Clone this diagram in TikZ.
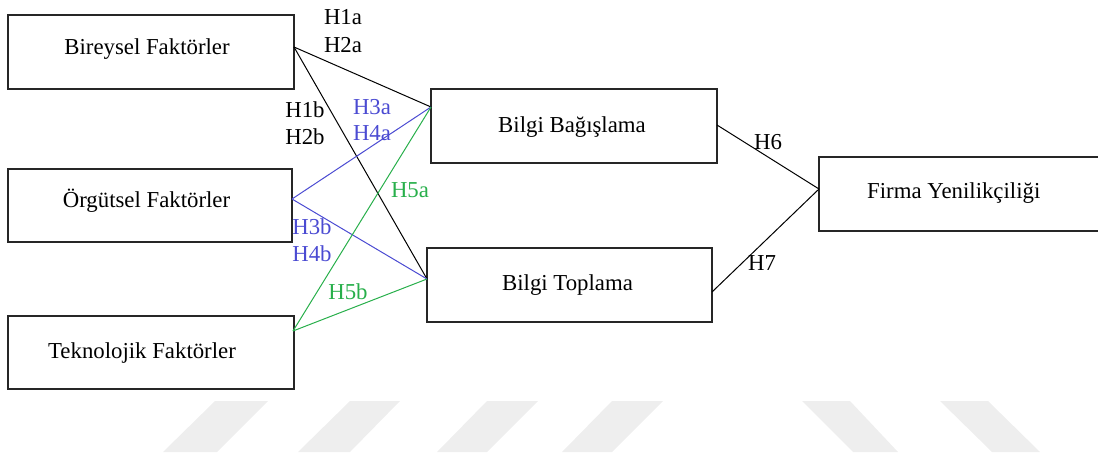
\documentclass[tikz,border=0pt]{standalone}
\usepackage{fontspec}
\setmainfont{Liberation Serif}
\definecolor{hblue}{RGB}{75,75,210}
\definecolor{hgreen}{RGB}{40,175,75}
\definecolor{wm}{RGB}{238,238,238}
\begin{document}
\begin{tikzpicture}[x=1pt,y=-1pt,
  box/.style={draw=black!85,line width=1.8pt,rectangle,inner sep=0pt},
  txt/.style={font=\fontsize{22.8}{26}\selectfont,inner sep=0pt},
  hl/.style={font=\fontsize{22.8}{26}\selectfont,inner sep=0pt},
  conn/.style={line width=1pt}]
\useasboundingbox (0,0) rectangle (1098,458);
\clip (0,0) rectangle (1098,458);
% watermark stripes
\fill[wm] (163,452) -- (217,452) -- (268,401) -- (215,401) -- cycle;
\fill[wm] (298,452) -- (350,452) -- (400,401) -- (350,401) -- cycle;
\fill[wm] (437,452) -- (487,452) -- (538,401) -- (487,401) -- cycle;
\fill[wm] (562,452) -- (612,452) -- (663,401) -- (612,401) -- cycle;
\fill[wm] (802,401) -- (850,401) -- (898,452) -- (853,452) -- cycle;
\fill[wm] (940,401) -- (988,401) -- (1040,452) -- (992,452) -- cycle;
% boxes
\node[box,minimum width=286pt,minimum height=74pt] (bir) at (151,52) {};
\node[box,minimum width=284pt,minimum height=73pt] (org) at (150,205.5) {};
\node[box,minimum width=286pt,minimum height=73pt] (tek) at (151,352.5) {};
\node[box,minimum width=286pt,minimum height=74pt] (bag) at (574,126) {};
\node[box,minimum width=285pt,minimum height=74pt] (top) at (569.5,285) {};
\node[box,minimum width=291pt,minimum height=74pt] (fir) at (964.5,194) {};
% texts
\node[txt] (tbir) at (147,49) {Bireysel Faktörler};
\node[txt] (torg) at (146.5,201) {Örgütsel Faktörler};
\node[txt] (ttek) at (142,353) {Teknolojik Faktörler};
\node[txt] (tbag) at (572,127) {Bilgi Bağışlama};
\node[txt] (ttop) at (567.5,285) {Bilgi Toplama};
\node[txt,anchor=west] (tfir) at (867,193) {Firma Yenilikçiliği};
% connection points
\coordinate (birR) at (294,47);
\coordinate (orgR) at (292,199);
\coordinate (tekR) at (293,331);
\coordinate (bagL) at (431,107);
\coordinate (topL) at (427,279);
\coordinate (bagR) at (717,125);
\coordinate (topR) at (712,292);
\coordinate (firL) at (819,189);
% connectors
\draw[conn,black] (birR) -- (bagL);
\draw[conn,black] (birR) -- (topL);
\draw[conn,hblue] (orgR) -- (bagL);
\draw[conn,hblue] (orgR) -- (topL);
\draw[conn,hgreen] (tekR) -- (bagL);
\draw[conn,hgreen] (tekR) -- (topL);
\draw[conn,black] (bagR) -- (firL);
\draw[conn,black] (topR) -- (firL);
% labels
\node[hl] (h1a) at (343,17) {H1a};
\node[hl] (h2a) at (343,45) {H2a};
\node[hl] (h1b) at (305,110) {H1b};
\node[hl] (h2b) at (305,137) {H2b};
\node[hl,text=hblue] (h3a) at (372,107) {H3a};
\node[hl,text=hblue] (h4a) at (372,133) {H4a};
\node[hl,text=hgreen] (h5a) at (410,190) {H5a};
\node[hl,text=hblue] (h3b) at (312,227) {H3b};
\node[hl,text=hblue] (h4b) at (312,254) {H4b};
\node[hl,text=hgreen] (h5b) at (348,292) {H5b};
\node[hl] (h6) at (768,142) {H6};
\node[hl] (h7) at (762,263) {H7};
\end{tikzpicture}
\end{document}
